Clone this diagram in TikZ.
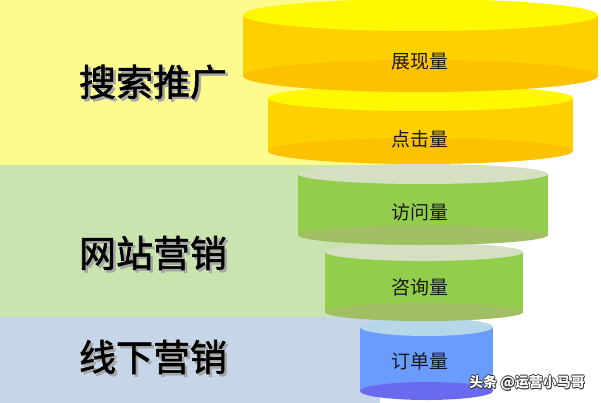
\documentclass[tikz,border=0pt]{standalone}
\usepackage{fontspec}
\newfontfamily\cjk{Noto Sans CJK SC}
\newfontfamily\cjkm[FakeBold=1.6]{Noto Sans CJK SC}
\definecolor{bandY}{HTML}{FDFB8E}
\definecolor{bandG}{HTML}{C9E4AE}
\definecolor{bandB}{HTML}{C6D6E8}
\definecolor{yTop}{HTML}{FFF800}
\definecolor{yBody}{HTML}{FFD000}
\definecolor{yBot}{HTML}{FCC200}
\definecolor{gTop}{HTML}{D5E0C2}
\definecolor{gBody}{HTML}{92CD4C}
\definecolor{gBot}{HTML}{A0BE62}
\definecolor{bTop}{HTML}{B6D6EA}
\definecolor{bBody}{HTML}{6A9BFF}
\definecolor{bBot}{HTML}{6A6AEE}
\newcommand\funnelcyl[8]{%
  \fill[#7] (#1-#2,#4) rectangle (#1+#2,#5);
  \fill[#8] (#1,#5) ellipse [x radius=#2, y radius=#3];
  \fill[#6] (#1,#4) ellipse [x radius=#2, y radius=#3];
}
\begin{document}
\begin{tikzpicture}[x=1pt,y=-1pt,
  stagelabel/.style={font=\cjk\fontsize{19}{19}\selectfont, text=black!90, inner sep=0pt},
  grouplabel/.style={font=\cjkm\fontsize{37}{37}\selectfont, text=black, inner sep=0pt},
  groupshadow/.style={font=\cjkm\fontsize{37}{37}\selectfont, text=black!35, inner sep=0pt},
  markfront/.style={font=\cjk\bfseries\fontsize{14}{14}\selectfont, text=white, inner sep=0pt},
  markback/.style={font=\cjk\bfseries\fontsize{14}{14}\selectfont, text=black!80, inner sep=0pt}]
\useasboundingbox (0,0) rectangle (601,403);
\fill[white] (0,0) rectangle (601,403);
% bands
\fill[bandY] (0,0) rectangle (400,165);
\fill[bandG] (0,165) rectangle (400,317);
\fill[bandB] (0,317) rectangle (380,403);
% cylinders (lower first, upper in front)
\funnelcyl{426.5}{66.5}{9}{327}{391}{bTop}{bBody}{bBot}
\funnelcyl{424}{99}{9}{252}{312}{gTop}{gBody}{gBot}
\funnelcyl{423}{125}{10}{174}{235}{gTop}{gBody}{gBot}
\funnelcyl{420.5}{152.5}{13}{98}{151}{yTop}{yBody}{yBot}
\funnelcyl{420.5}{177.5}{16}{15}{76}{yTop}{yBody}{yBot}
% stage labels
\node[stagelabel] (s1) at (420,62) {展现量};
\node[stagelabel] (s2) at (420,139) {点击量};
\node[stagelabel] (s3) at (420,212) {访问量};
\node[stagelabel] (s4) at (420,287) {咨询量};
\node[stagelabel] (s5) at (420,361) {订单量};
% group labels
\node[groupshadow] (g1s) at (155.5,84.5) {搜索推广};
\node[grouplabel] (g1) at (153,82) {搜索推广};
\node[groupshadow] (g2s) at (155.5,255.5) {网站营销};
\node[grouplabel] (g2) at (153,253) {网站营销};
\node[groupshadow] (g3s) at (155.5,359.5) {线下营销};
\node[grouplabel] (g3) at (153,357) {线下营销};
% watermark
\foreach \dx/\dy in {-0.7/0,0.7/0,0/-0.7,0/0.7,0.7/0.7}{
  \node[markback] at (527+\dx,383+\dy) {头条 @运营小马哥};
}
\node[markfront] (wm) at (527,383) {头条 @运营小马哥};
\end{tikzpicture}
\end{document}
